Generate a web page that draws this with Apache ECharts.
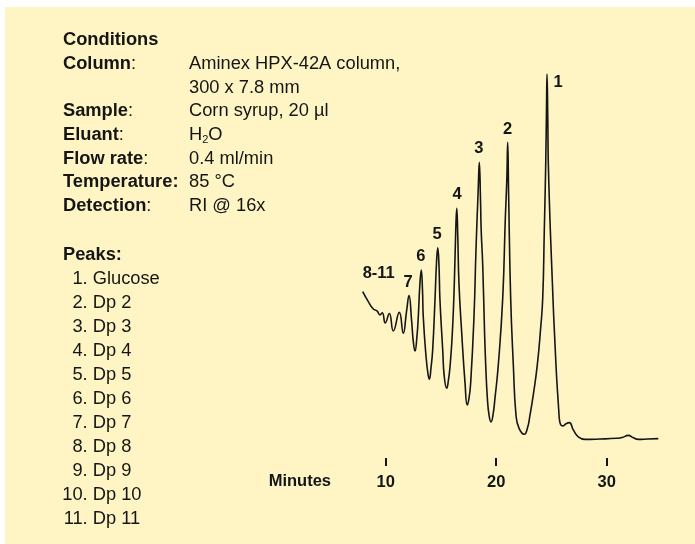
<!DOCTYPE html>
<html>
<head>
<meta charset="utf-8">
<script src="https://cdn.jsdelivr.net/npm/echarts@6/dist/echarts.min.js"></script>
<style>
  html, body { margin: 0; padding: 0; background: #fff; }
  #chart { width: 695px; height: 544px; }
</style>
</head>
<body>
<div id="chart"></div>
<script>
// RI trace (minutes, response as % of the glucose peak)
const traceMinutes = [
  7.92, 8.40, 8.88, 9.21, 9.48, 9.69, 9.96, 10.33, 10.69, 11.23,
  11.59, 11.88, 12.11, 12.34, 12.50, 12.65, 12.83, 12.95, 13.09, 13.22,
  13.33, 13.40, 13.65, 13.83, 13.95, 14.10, 14.25, 14.46, 14.60, 14.71,
  14.82, 14.91, 15.16, 15.30, 15.52, 15.68, 15.82, 16.03, 16.21, 16.34,
  16.43, 16.52, 16.63, 16.88, 17.18, 17.38, 17.54, 17.69, 17.99, 18.17,
  18.37, 18.47, 18.58, 18.64, 18.78, 18.94, 19.05, 19.20, 19.35, 19.53,
  19.71, 19.89, 20.19, 20.59, 20.82, 20.96, 21.04, 21.13, 21.31, 21.55,
  21.79, 22.06, 22.54, 22.83, 23.06, 23.38, 23.72, 24.01, 24.21, 24.35,
  24.48, 24.55, 24.60, 24.67, 24.72, 25.02, 25.41, 25.66, 25.73, 25.86,
  26.02, 26.32, 26.62, 26.98, 27.43, 28.04, 29.39, 30.91, 31.39, 31.96,
  32.38, 32.86, 33.74, 34.67
];
const traceResponse = [
  40.4, 37.8, 35.6, 35.1, 34.0, 34.6, 31.8, 34.4, 29.6, 34.7,
  29.0, 34.8, 39.3, 32.6, 26.6, 24.1, 28.2, 33.5, 42.2, 46.3,
  40.8, 33.5, 22.6, 17.8, 16.4, 19.5, 24.4, 38.1, 48.5, 52.4,
  47.7, 38.1, 24.4, 17.1, 13.9, 16.2, 19.8, 29.0, 42.7, 57.3,
  63.2, 55.9, 42.7, 29.0, 15.3, 9.3, 11.2, 15.3, 33.5, 51.8,
  68.2, 75.8, 65.5, 57.3, 47.7, 29.9, 20.3, 11.2, 6.6, 4.7,
  6.6, 11.2, 20.3, 38.6, 60.0, 71.0, 81.3, 66.0, 38.6, 20.3,
  6.6, 3.0, 1.3, 3.0, 6.6, 12.6, 20.3, 29.9, 38.6, 56.8,
  75.1, 90.1, 100, 87.4, 75.1, 47.7, 20.3, 7.9, 5.2, 3.8,
  3.6, 4.2, 4.5, 2.5, 0.6, -0.1, 0, 0.2, 0.4, 1.0,
  0.4, -0.1, 0, 0.1
];

// peak number labels, placed at (minutes, response)
const peakLabels = ['1', '2', '3', '4', '5', '6', '7', '8-11'];
const peakLabelMinutes = [25.59, 21.02, 18.44, 16.45, 14.64, 13.19, 12.02, 9.37];
const peakLabelResponse = [97.6, 84.7, 79.7, 66.9, 56.0, 49.9, 42.8, 45.3];

const timeTicks = [10, 20, 30];

const conditionNames = ['{b|Column}:', '', '{b|Sample}:', '{b|Eluant}:', '{b|Flow rate}:', '{b|Temperature:}', '{b|Detection}:'];
const conditionValues = ['Aminex HPX-42A column,', '300 x 7.8 mm', 'Corn syrup, 20 µl', 'H{sub|2}O', '0.4 ml/min', '85 °C', 'RI @ 16x'];
const peakNames = ['Glucose', 'Dp 2', 'Dp 3', 'Dp 4', 'Dp 5', 'Dp 6', 'Dp 7', 'Dp 8', 'Dp 9', 'Dp 10', 'Dp 11'];

const ink = '#151515';
const sans = "'Liberation Sans', Arial, sans-serif";
const textSize = 18.3;
const markSize = 16.5;

const rich = {
  b: { fontFamily: sans, fontSize: textSize, fontWeight: 'bold', color: ink },
  sub: { fontFamily: sans, fontSize: 11, color: ink, padding: [10, 0, 0, 0] }
};

function textEl(text, x, y, opts) {
  return {
    type: 'text',
    silent: true,
    style: Object.assign({
      text: text,
      x: x,
      y: y,
      fill: ink,
      font: textSize + 'px ' + sans,
      verticalAlign: 'middle',
      rich: rich
    }, opts || {})
  };
}

const graphics = [
  // white margins round the yellow panel
  { type: 'rect', silent: true, shape: { x: 0, y: 0, width: 5, height: 544 }, style: { fill: '#fff' } },
  { type: 'rect', silent: true, shape: { x: 0, y: 0, width: 695, height: 7 }, style: { fill: '#fff' } },
  textEl('Conditions', 63, 40.4, { font: 'bold ' + textSize + 'px ' + sans })
];
conditionNames.forEach((name, i) => {
  const y = 64.1 + i * 23.67;
  if (name) graphics.push(textEl(name, 63, y));
  graphics.push(textEl(conditionValues[i], 189, y));
});
graphics.push(textEl('Peaks:', 63, 255.1, { font: 'bold ' + textSize + 'px ' + sans }));
peakNames.forEach((name, i) => {
  const y = 279.1 + i * 24.03;
  graphics.push(textEl((i + 1) + '.', 87.7, y, { align: 'right' }));
  graphics.push(textEl(name, 92.7, y));
});

const chart = echarts.init(document.getElementById('chart'));
chart.setOption({
  animation: false,
  backgroundColor: '#fff5c4',
  grid: { left: 352.55, right: 33.05, top: 74, bottom: 86 },
  xAxis: {
    type: 'value',
    min: 7,
    max: 35,
    name: 'Minutes',
    nameLocation: 'start',
    nameGap: 21.5,
    nameTextStyle: {
      fontFamily: sans, fontWeight: 'bold', fontSize: markSize, color: ink,
      verticalAlign: 'top', padding: [15, 0, 0, 0]
    },
    axisLine: { show: false, onZero: false },
    splitLine: { show: false },
    axisTick: {
      show: true,
      customValues: timeTicks,
      length: 8,
      lineStyle: { color: ink, width: 2 }
    },
    axisLabel: {
      customValues: timeTicks,
      margin: 16,
      fontFamily: sans,
      fontWeight: 'bold',
      fontSize: markSize,
      color: ink
    }
  },
  yAxis: { type: 'value', min: -5.2, max: 100, show: false },
  graphic: graphics,
  series: [
    {
      type: 'line',
      data: traceMinutes.map((t, i) => [t, traceResponse[i]]),
      showSymbol: false,
      smooth: 0.5,
      lineStyle: { color: ink, width: 1.6 },
      silent: true
    },
    {
      type: 'scatter',
      data: peakLabels.map((name, i) => ({ name: name, value: [peakLabelMinutes[i], peakLabelResponse[i]] })),
      symbolSize: 1,
      itemStyle: { color: 'rgba(0,0,0,0)', opacity: 1 },
      silent: true,
      label: {
        show: true,
        position: 'inside',
        formatter: '{b}',
        fontFamily: sans,
        fontWeight: 'bold',
        fontSize: markSize,
        color: ink,
        opacity: 1,
        textBorderWidth: 0
      }
    }
  ]
});
</script>
</body>
</html>
